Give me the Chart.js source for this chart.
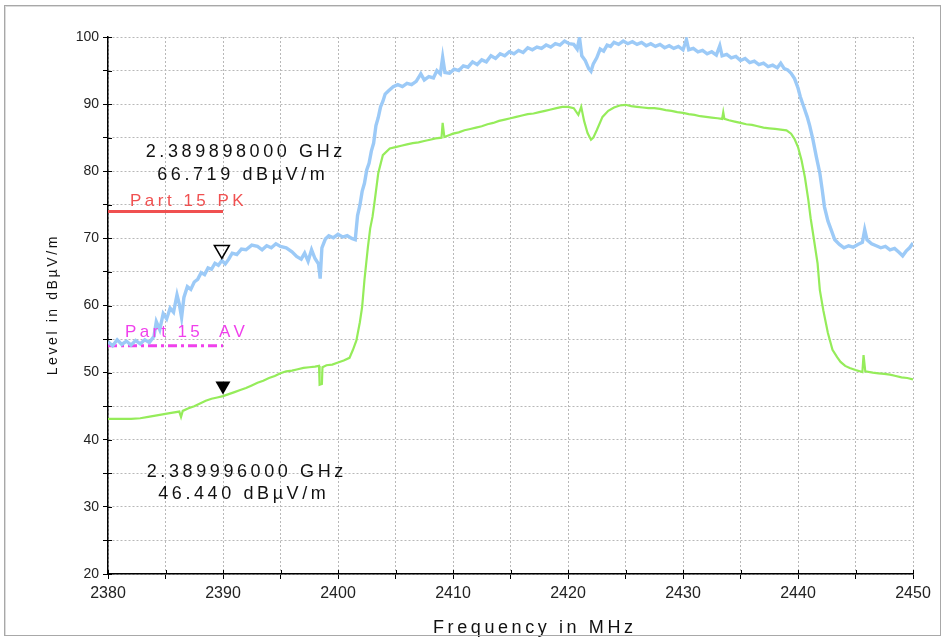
<!DOCTYPE html>
<html>
<head>
<meta charset="utf-8">
<script src="https://cdn.jsdelivr.net/npm/chart.js@4.4.1/dist/chart.umd.min.js"></script>
<style>
  html, body { margin: 0; padding: 0; background: #fff; }
  #wrap { position: relative; width: 945px; height: 639px; }
  #frame { position: absolute; left: 4px; top: 5px; right: 4px; bottom: 3px; border: 1px solid #a8a8a8; box-shadow: 1px 1px 0 #dcdcdc inset; pointer-events: none; }
  canvas { position: absolute; left: 0; top: 0; }
</style>
</head>
<body>
<div id="wrap">
<canvas id="c" width="945" height="639"></canvas>
<div id="frame"></div>
</div>
<script>
// ---- Data ----
const xTickValues = [2380, 2390, 2400, 2410, 2420, 2430, 2440, 2450];
const yTickValues = [20, 30, 40, 50, 60, 70, 80, 90, 100];

const peakFreq = [
  2380.0,2380.4,2380.8,2381.2,2381.6,2382.0,2382.4,2382.8,2383.2,2383.6,
  2384.0,2384.2,2384.5,2384.8,2385.1,2385.4,2385.7,2386.0,2386.2,2386.4,
  2386.6,2386.9,2387.2,2387.5,2387.8,2388.1,2388.4,2388.7,2389.0,2389.3,
  2389.6,2389.9,2390.2,2390.5,2390.8,2391.2,2391.6,2392.0,2392.5,2393.0,
  2393.4,2393.8,2394.2,2394.6,2395.0,2395.5,2396.0,2396.4,2396.8,2397.1,
  2397.4,2397.7,2398.0,2398.3,2398.45,2398.6,2398.9,2399.2,2399.6,2400.0,
  2400.4,2400.8,2401.2,2401.5,2401.7,2401.9,2402.1,2402.3,2402.5,2402.7,
  2402.9,2403.1,2403.3,2403.5,2403.7,2403.9,2404.1,2404.4,2404.8,2405.2,
  2405.6,2406.0,2406.4,2406.8,2407.2,2407.5,2407.9,2408.3,2408.6,2408.9,
  2409.1,2409.3,2409.7,2410.1,2410.5,2410.9,2411.3,2411.7,2412.1,2412.5,
  2412.9,2413.3,2413.7,2414.1,2414.5,2414.9,2415.3,2415.7,2416.1,2416.5,
  2416.9,2417.3,2417.7,2418.1,2418.5,2418.9,2419.3,2419.7,2420.1,2420.5,
  2420.8,2421.0,2421.2,2421.5,2421.8,2422.0,2422.2,2422.5,2422.8,2423.1,
  2423.4,2423.7,2424.0,2424.4,2424.8,2425.2,2425.6,2426.0,2426.4,2426.8,
  2427.2,2427.6,2428.0,2428.4,2428.8,2429.2,2429.6,2430.0,2430.3,2430.5,
  2430.9,2431.3,2431.7,2432.1,2432.5,2432.9,2433.2,2433.4,2433.8,2434.2,
  2434.6,2435.0,2435.4,2435.8,2436.2,2436.6,2437.0,2437.4,2437.8,2438.2,
  2438.5,2438.8,2439.1,2439.4,2439.7,2440.0,2440.2,2440.5,2440.8,2441.0,
  2441.3,2441.6,2441.9,2442.1,2442.3,2442.6,2442.9,2443.2,2443.6,2444.0,
  2444.4,2444.8,2445.2,2445.6,2445.8,2446.0,2446.4,2446.8,2447.2,2447.6,
  2448.0,2448.4,2448.8,2449.1,2449.4,2449.7,2450.0
];
const peakLevel = [
  54.6,54.0,54.9,54.2,54.7,54.1,54.8,54.3,54.9,54.5,
  55.4,57.6,56.4,58.8,58.0,59.6,59.0,61.6,60.2,58.2,
  61.2,62.8,62.4,63.5,63.9,64.9,64.6,65.6,65.4,66.3,
  66.0,66.7,66.2,66.9,67.8,67.6,68.4,68.3,69.0,68.8,
  68.3,68.9,68.6,69.2,68.8,68.6,68.0,67.3,66.9,67.8,
  66.6,68.3,67.0,66.2,64.0,68.6,69.9,70.4,70.1,70.6,
  70.2,70.4,70.0,69.8,73.4,74.9,77.0,78.2,80.2,81.2,
  83.0,84.2,86.8,88.0,89.6,90.4,91.5,92.0,92.6,92.9,
  92.6,93.1,92.9,93.4,94.5,93.6,94.1,93.9,95.0,94.5,
  97.0,94.7,94.6,95.2,95.0,95.7,95.5,96.3,95.9,96.6,
  96.3,97.2,96.8,97.5,97.2,97.8,97.5,98.0,97.7,98.4,
  98.1,98.5,98.3,98.8,98.5,99.0,98.8,99.4,99.0,98.9,
  98.2,99.9,97.2,96.5,95.3,94.9,96.0,96.9,98.2,97.9,
  98.8,98.6,99.2,98.9,99.4,99.0,99.3,98.9,99.2,98.7,
  99.0,98.6,98.9,98.4,98.7,98.3,98.6,98.1,99.6,98.1,
  98.3,97.8,98.0,97.5,97.8,97.3,98.7,97.2,97.4,96.9,
  97.1,96.5,96.8,96.2,96.4,95.9,96.1,95.6,95.8,95.4,
  96.1,95.3,95.1,94.6,93.8,92.4,91.1,89.6,88.1,86.9,
  84.7,82.1,79.7,77.3,74.7,72.6,71.2,69.8,69.1,68.6,
  68.9,68.7,69.1,69.4,71.3,69.8,69.2,68.9,68.6,68.8,
  68.3,68.5,67.9,67.4,68.1,68.6,69.3
];

const avgFreq = [
  2380.0,2381.0,2382.0,2382.8,2383.5,2384.5,2385.5,2386.2,2386.35,2386.5,
  2387.0,2387.5,2388.0,2388.5,2389.0,2389.5,2390.0,2390.5,2391.0,2391.5,
  2392.0,2392.5,2393.0,2393.5,2394.0,2394.5,2395.0,2395.5,2396.0,2396.5,
  2397.0,2397.5,2398.0,2398.35,2398.4,2398.6,2398.65,2399.0,2399.5,2400.0,
  2400.5,2401.0,2401.3,2401.6,2401.9,2402.1,2402.3,2402.6,2402.8,2403.0,
  2403.2,2403.5,2403.9,2404.5,2405.0,2405.5,2406.0,2406.5,2407.0,2407.5,
  2408.0,2408.5,2409.0,2409.1,2409.25,2409.7,2410.0,2410.5,2411.0,2411.5,
  2412.0,2412.5,2413.0,2413.5,2414.0,2414.5,2415.0,2415.5,2416.0,2416.5,
  2417.0,2417.5,2418.0,2418.5,2419.0,2419.5,2420.0,2420.5,2420.9,2421.15,
  2421.4,2421.7,2422.0,2422.2,2422.5,2423.0,2423.5,2424.0,2424.5,2425.0,
  2425.5,2426.0,2426.5,2427.0,2427.5,2428.0,2428.5,2429.0,2429.5,2430.0,
  2430.5,2431.0,2431.5,2432.0,2432.5,2433.0,2433.4,2433.5,2433.6,2434.0,
  2434.5,2435.0,2435.5,2436.0,2436.5,2437.0,2437.5,2438.0,2438.5,2439.0,
  2439.4,2439.7,2440.0,2440.3,2440.6,2440.9,2441.1,2441.3,2441.7,2441.9,
  2442.2,2442.6,2443.0,2443.4,2443.7,2444.1,2444.5,2445.0,2445.6,2445.7,
  2445.85,2446.5,2447.0,2447.5,2448.0,2448.5,2449.0,2449.5,2450.0
];
const avgLevel = [
  43.1,43.1,43.1,43.2,43.4,43.7,44.0,44.2,43.4,44.3,
  44.7,45.0,45.4,45.8,46.1,46.3,46.5,46.8,47.1,47.4,
  47.7,48.1,48.5,48.8,49.2,49.5,49.9,50.2,50.3,50.5,
  50.7,50.8,50.9,51.0,48.2,48.3,50.8,51.1,51.2,51.5,
  51.8,52.2,53.4,54.8,57.5,59.8,63.8,68.7,71.5,73.2,
  75.7,79.7,82.4,83.4,83.6,83.8,84.0,84.2,84.3,84.5,
  84.7,84.9,85.0,87.2,85.1,85.4,85.6,85.8,86.1,86.3,
  86.5,86.7,87.0,87.2,87.5,87.7,87.9,88.1,88.3,88.5,
  88.6,88.8,89.0,89.2,89.4,89.6,89.6,89.4,88.4,89.6,
  87.5,85.7,84.7,85.0,86.1,88.1,89.0,89.5,89.8,89.9,
  89.7,89.6,89.5,89.4,89.4,89.3,89.1,89.0,88.8,88.7,
  88.5,88.4,88.2,88.1,88.0,87.9,87.8,88.8,87.8,87.6,
  87.4,87.2,87.0,86.9,86.7,86.5,86.4,86.3,86.2,86.1,
  85.6,84.8,83.6,81.7,79.1,75.7,73.0,70.8,66.3,62.3,
  59.3,55.9,53.4,52.3,51.6,51.0,50.7,50.4,50.1,52.6,
  50.2,50.0,49.9,49.8,49.7,49.5,49.3,49.2,49.0
];

// limit lines
const pkLimitFreq = [2380, 2390];
const pkLimitLevel = [74, 74];
const avLimitFreq = [2380, 2390];
const avLimitLevel = [54, 54];

// markers
const peakMarker = { freqMHz: 2389.898, level: 66.719 };
const avgMarker = { freqMHz: 2389.996, level: 46.440 };

// ---- helpers ----
const toXY = (xs, ys) => xs.map((x, i) => ({ x: x, y: ys[i] }));

function spacedText(ctx, text, x, y, spacing, align) {
  const chars = Array.from(text);
  const widths = chars.map(c => ctx.measureText(c).width);
  const total = widths.reduce((a, b) => a + b, 0) + spacing * (chars.length - 1);
  let cx = align === 'center' ? x - total / 2 : (align === 'right' ? x - total : x);
  ctx.textAlign = 'left';
  chars.forEach((c, i) => { ctx.fillText(c, cx, y); cx += widths[i] + spacing; });
}

const decorPlugin = {
  id: 'decor',
  afterDraw(chart) {
    const ctx = chart.ctx;
    const xs = chart.scales.x, ys = chart.scales.y;
    const area = chart.chartArea;
    ctx.save();
    // inner tick marks
    ctx.strokeStyle = '#000'; ctx.lineWidth = 1;
    ctx.beginPath();
    for (let v = 20; v <= 100; v += 5) {
      const py = Math.round(ys.getPixelForValue(v)) + 0.5;
      ctx.moveTo(area.left, py); ctx.lineTo(area.left + 4, py);
    }
    for (let f = 2380; f <= 2450; f += 5) {
      const px = Math.round(xs.getPixelForValue(f)) + 0.5;
      ctx.moveTo(px, area.bottom); ctx.lineTo(px, area.bottom - 4);
    }
    ctx.stroke();

    // markers
    const drawTri = (m, filled) => {
      const px = xs.getPixelForValue(m.freqMHz);
      const py = ys.getPixelForValue(m.level) - 2;
      ctx.beginPath();
      ctx.moveTo(px, py);
      ctx.lineTo(px - 7.5, py - 13);
      ctx.lineTo(px + 7.5, py - 13);
      ctx.closePath();
      if (filled) { ctx.fillStyle = '#000'; ctx.fill(); }
      else { ctx.lineWidth = 1.5; ctx.strokeStyle = '#000'; ctx.stroke(); }
    };
    drawTri(peakMarker, false);
    drawTri(avgMarker, true);

    // marker readouts
    ctx.fillStyle = '#111';
    ctx.textBaseline = 'middle';
    ctx.font = '18px "Liberation Sans", Arial, sans-serif';
    spacedText(ctx, (peakMarker.freqMHz / 1000).toFixed(9) + ' GHz', 244, 152, 3.6, 'center');
    spacedText(ctx, peakMarker.level.toFixed(3) + ' dBµV/m', 241, 175, 3.6, 'center');
    spacedText(ctx, (avgMarker.freqMHz / 1000).toFixed(9) + ' GHz', 245, 472, 3.6, 'center');
    spacedText(ctx, avgMarker.level.toFixed(3) + ' dBµV/m', 242, 494, 3.6, 'center');

    // limit labels
    ctx.font = '17px "Liberation Sans", Arial, sans-serif';
    ctx.fillStyle = '#f05050';
    spacedText(ctx, 'Part 15 PK', 130, 201, 3.5, 'left');
    ctx.fillStyle = '#f040ec';
    spacedText(ctx, 'Part 15  AV', 125, 332, 3.3, 'left');

    // axis titles
    ctx.fillStyle = '#111';
    ctx.font = '18px "Liberation Sans", Arial, sans-serif';
    spacedText(ctx, 'Frequency in MHz', 533, 628, 3.6, 'center');
    ctx.save();
    ctx.translate(53, 306);
    ctx.rotate(-Math.PI / 2);
    ctx.font = '14px "Liberation Sans", Arial, sans-serif';
    spacedText(ctx, 'Level in dBµV/m', 0, 0, 2.6, 'center');
    ctx.restore();
    ctx.restore();
  }
};

const ctx = document.getElementById('c').getContext('2d');
new Chart(ctx, {
  type: 'line',
  data: {
    datasets: [
      { label: 'Peak', data: toXY(peakFreq, peakLevel), borderColor: '#9ccaf7', borderWidth: 3.4, pointRadius: 0, tension: 0, order: 1 },
      { label: 'Average', data: toXY(avgFreq, avgLevel), borderColor: '#95ec5a', borderWidth: 2.2, pointRadius: 0, tension: 0, order: 2 },
      { label: 'Part 15 PK', data: toXY(pkLimitFreq, pkLimitLevel), borderColor: '#f05050', borderWidth: 3, pointRadius: 0, order: 3 },
      { label: 'Part 15 AV', data: toXY(avLimitFreq, avLimitLevel), borderColor: '#f040ec', borderWidth: 3, borderDash: [9, 4, 3, 4], pointRadius: 0, order: 4 }
    ]
  },
  options: {
    responsive: false,
    animation: false,
    devicePixelRatio: 1,
    layout: { padding: { left: 0, top: 37, right: 32, bottom: 0 } },
    plugins: { legend: { display: false }, tooltip: { enabled: false } },
    scales: {
      x: {
        type: 'linear', min: 2380, max: 2450,
        afterFit: s => { s.height = 65; },
        afterBuildTicks: s => {
          const t = []; for (let f = 2380; f <= 2450; f += 5) t.push({ value: f }); s.ticks = t;
        },
        ticks: {
          autoSkip: false, maxRotation: 0, padding: 5, color: '#222',
          font: { family: '"Liberation Sans Narrow", "Liberation Sans", Arial', size: 16 },
          callback: v => xTickValues.includes(v) ? String(v) : ''
        },
        grid: { color: '#b8b8b8', lineWidth: 1, tickLength: 5, tickColor: '#000', tickWidth: 1 },
        border: { display: true, color: '#000', width: 1.5, dash: [2, 2] }
      },
      y: {
        type: 'linear', min: 20, max: 100,
        afterFit: s => { s.width = 108; },
        afterBuildTicks: s => {
          const t = []; for (let v = 20; v <= 100; v += 5) t.push({ value: v }); s.ticks = t;
        },
        ticks: {
          autoSkip: false, padding: 4, color: '#222',
          font: { family: '"Liberation Sans Narrow", "Liberation Sans", Arial', size: 14 },
          callback: v => yTickValues.includes(v) ? String(v) : ''
        },
        grid: { color: '#b8b8b8', lineWidth: 1, tickLength: 5, tickColor: '#000', tickWidth: 1 },
        border: { display: true, color: '#000', width: 1.5, dash: [2, 2] }
      }
    }
  },
  plugins: [decorPlugin]
});
</script>
</body>
</html>
